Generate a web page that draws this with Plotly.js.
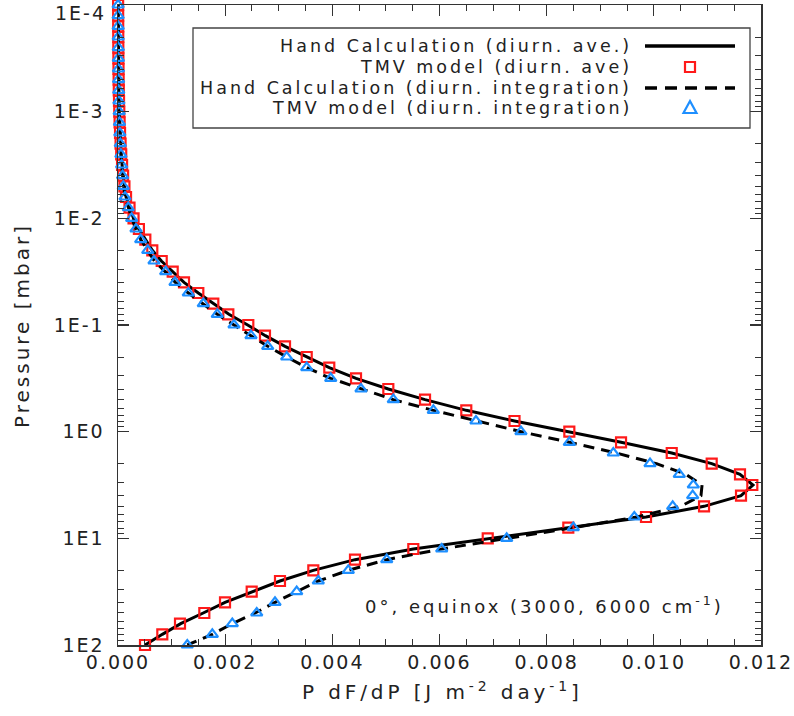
<!DOCTYPE html>
<html>
<head>
<meta charset="utf-8">
<script src="https://cdn.plot.ly/plotly-3.0.1.min.js"></script>
<style>
  html, body { margin: 0; padding: 0; background: #ffffff; }
  #chart { width: 794px; height: 716px; }
  /* open, widely tracked lettering for the tick labels */
  #chart .xtick text, #chart .ytick text { letter-spacing: 2px; }
</style>
</head>
<body>
<div id="chart"></div>
<script>
// Pressure levels (log10 of mbar), ten per decade from 1E-4 to 1E2
const logPressure = [
  -4.0, -3.9, -3.8, -3.7, -3.6, -3.5, -3.4, -3.3, -3.2, -3.1,
  -3.0, -2.9, -2.8, -2.7, -2.6, -2.5, -2.4, -2.3, -2.2, -2.1,
  -2.0, -1.9, -1.8, -1.7, -1.6, -1.5, -1.4, -1.3, -1.2, -1.1,
  -1.0, -0.9, -0.8, -0.7, -0.6, -0.5, -0.4, -0.3, -0.2, -0.1,
   0.0,  0.1,  0.2,  0.3,  0.4,  0.5,  0.6,  0.7,  0.8,  0.9,
   1.0,  1.1,  1.2,  1.3,  1.4,  1.5,  1.6,  1.7,  1.8,  1.9,
   2.0
];

// P dF/dP [J m^-2 day^-1], hand calculation with diurnally averaged insolation
const handDiurnAve = [
  0.0000024, 0.0000030, 0.0000038, 0.0000048, 0.0000060, 0.0000076, 0.0000095, 0.0000120, 0.0000150, 0.0000190,
  0.0000240, 0.0000300, 0.0000380, 0.0000480, 0.0000600, 0.0000760, 0.0000950, 0.000120, 0.000150, 0.000215,
  0.000290, 0.000390, 0.000510, 0.000640, 0.000810, 0.001015, 0.001232, 0.001499, 0.001779, 0.002070,
  0.002420, 0.002750, 0.003117, 0.003522, 0.003943, 0.004442, 0.005045, 0.005730, 0.006500, 0.007400,
  0.008423, 0.009388, 0.010334, 0.011080, 0.011608, 0.011850, 0.011627, 0.010937, 0.009854, 0.008404,
  0.006900, 0.005511, 0.004423, 0.003645, 0.003023, 0.002495, 0.001997, 0.001590, 0.001170, 0.000827,
  0.000504
];

// TMV model, diurnally averaged insolation
const tmvDiurnAve = [
  0.0000024, 0.0000030, 0.0000038, 0.0000048, 0.0000060, 0.0000076, 0.0000095, 0.0000120, 0.0000150, 0.0000190,
  0.0000240, 0.0000300, 0.0000380, 0.0000480, 0.0000600, 0.0000760, 0.0000950, 0.000120, 0.000150, 0.000215,
  0.000290, 0.000390, 0.000510, 0.000640, 0.000816, 0.001021, 0.001232, 0.001499, 0.001779, 0.002059,
  0.002432, 0.002743, 0.003117, 0.003522, 0.003943, 0.004442, 0.005045, 0.005730, 0.006500, 0.007400,
  0.008423, 0.009388, 0.010334, 0.011080, 0.011608, 0.011838, 0.011627, 0.010937, 0.009854, 0.008404,
  0.006900, 0.005511, 0.004423, 0.003645, 0.003023, 0.002495, 0.001997, 0.001611, 0.001157, 0.000827,
  0.000504
];

// Hand calculation with diurnal integration
const handDiurnInt = [
  0.0000022, 0.0000027, 0.0000034, 0.0000043, 0.0000054, 0.0000068, 0.0000085, 0.0000107, 0.0000135, 0.0000170,
  0.0000215, 0.0000270, 0.0000340, 0.0000430, 0.0000540, 0.0000680, 0.0000850, 0.000105, 0.000135, 0.000190,
  0.000255, 0.000336, 0.000428, 0.000550, 0.000680, 0.000880, 0.001070, 0.001312, 0.001592, 0.001853,
  0.002165, 0.002482, 0.002794, 0.003148, 0.003522, 0.003970, 0.004535, 0.005138, 0.005885, 0.006680,
  0.007520, 0.008423, 0.009300, 0.010050, 0.010600, 0.010900, 0.010880, 0.010500, 0.009680, 0.008497,
  0.007254, 0.006041, 0.005015, 0.004298, 0.003738, 0.003335, 0.002930, 0.002560, 0.002133, 0.001760,
  0.001293
];

// TMV model with diurnal integration
const tmvDiurnInt = [
  0.0000022, 0.0000027, 0.0000034, 0.0000043, 0.0000054, 0.0000068, 0.0000085, 0.0000107, 0.0000135, 0.0000170,
  0.0000215, 0.0000270, 0.0000340, 0.0000430, 0.0000540, 0.0000680, 0.0000850, 0.000099, 0.000131, 0.000192,
  0.000255, 0.000336, 0.000424, 0.000555, 0.000672, 0.000890, 0.001064, 0.001312, 0.001592, 0.001853,
  0.002165, 0.002482, 0.002794, 0.003148, 0.003522, 0.003970, 0.004535, 0.005138, 0.005885, 0.006680,
  0.007520, 0.008423, 0.009244, 0.009929, 0.010475, 0.010737, 0.010725, 0.010352, 0.009636, 0.008497,
  0.007254, 0.006041, 0.005015, 0.004298, 0.003738, 0.003335, 0.002930, 0.002589, 0.002133, 0.001760,
  0.001293
];

// Decade ticks; the top label (1E-4) is set just inside the frame
const pressureTickVals = [1e-3, 1e-2, 1e-1, 1, 10, 100];
const pressureTickText = ['1E-3', '1E-2', '1E-1', '1E0', '1E1', '1E2'];
const topPressureLabel = '1E-4';

const legendLabels = [
  'Hand Calculation (diurn. ave.)',
  'TMV model (diurn. ave)',
  'Hand Calculation (diurn. integration)',
  'TMV model (diurn. integration)'
];
const caseLabel = '0\u00b0, equinox (3000, 6000 cm<sup>-1</sup>)';
const xTitle = 'P dF/dP [J m<sup>-2</sup> day<sup>-1</sup>]';
const yTitle = 'Pressure [mbar]';

// ---- page geometry -------------------------------------------------------
const W = 794, H = 716;
const M = { l: 118, r: 33, t: 5, b: 71 };
const plotW = W - M.l - M.r, plotH = H - M.t - M.b;
// pixel position on the page -> paper coordinates
const px = v => (v - M.l) / plotW;
const py = v => (H - M.b - v) / plotH;
// widely tracked text run
const tracked = (t, sp) => `<span style="letter-spacing:${sp}px">${t}</span>`;

const FONT = 'DejaVu Sans, Liberation Sans, sans-serif';
const TXT = '#222222';
const RED = '#ff1a1a';
const BLUE = '#1e8fff';

const pressure = logPressure.map(v => Math.pow(10, v));

const traces = [
  {
    x: handDiurnAve, y: pressure, type: 'scatter', mode: 'lines',
    line: { color: '#000000', width: 3 }, name: legendLabels[0], cliponaxis: true
  },
  {
    x: tmvDiurnAve, y: pressure, type: 'scatter', mode: 'markers',
    marker: { symbol: 'square-open', size: 10, color: RED, line: { width: 2.2, color: RED } },
    name: legendLabels[1], cliponaxis: false
  },
  {
    x: handDiurnInt, y: pressure, type: 'scatter', mode: 'lines',
    line: { color: '#000000', width: 3, dash: '11px,7px' }, name: legendLabels[2], cliponaxis: true
  },
  {
    x: tmvDiurnInt, y: pressure, type: 'scatter', mode: 'markers',
    marker: { symbol: 'triangle-up-open', size: 10, color: BLUE, line: { width: 2.2, color: BLUE } },
    name: legendLabels[3], cliponaxis: false
  }
];

// ---- legend, drawn by hand: right-aligned labels, glyphs on the right -----
const rowY = [46, 67, 88, 108];
const textRight = 634, glyphX = 690, glyphL = 645, glyphR = 735;

const shapes = [
  { type: 'rect', xref: 'paper', yref: 'paper',
    x0: px(193), x1: px(750), y0: py(128), y1: py(28),
    line: { color: '#444444', width: 1.3 }, fillcolor: '#ffffff', layer: 'above' },
  { type: 'line', xref: 'paper', yref: 'paper',
    x0: px(glyphL), x1: px(glyphR), y0: py(rowY[0]), y1: py(rowY[0]),
    line: { color: '#000000', width: 3.5 }, layer: 'above' },
  { type: 'rect', xref: 'paper', yref: 'paper',
    x0: px(glyphX - 5), x1: px(glyphX + 5), y0: py(rowY[1] + 5), y1: py(rowY[1] - 5),
    line: { color: RED, width: 2.2 }, layer: 'above' },
  { type: 'line', xref: 'paper', yref: 'paper',
    x0: px(glyphL), x1: px(glyphR), y0: py(rowY[2]), y1: py(rowY[2]),
    line: { color: '#000000', width: 3.5, dash: '12px,8px' }, layer: 'above' },
  { type: 'path', xref: 'paper', yref: 'paper',
    path: `M ${px(glyphX)},${py(rowY[3] - 7)} L ${px(glyphX + 6.5)},${py(rowY[3] + 5)} L ${px(glyphX - 6.5)},${py(rowY[3] + 5)} Z`,
    line: { color: BLUE, width: 2.2 }, layer: 'above' }
];

const annotations = legendLabels.map((t, i) => ({
  text: tracked(t, 3.0), xref: 'paper', yref: 'paper', x: px(textRight), y: py(rowY[i]),
  xanchor: 'right', yanchor: 'middle', showarrow: false,
  font: { family: FONT, size: 17.5, color: TXT }
}));

annotations.push(
  { text: tracked(caseLabel, 3.0), xref: 'paper', yref: 'paper', x: px(726), y: py(605),
    xanchor: 'right', yanchor: 'middle', showarrow: false,
    font: { family: FONT, size: 18, color: TXT } },
  { text: tracked(xTitle, 3.9), xref: 'paper', yref: 'paper', x: px(442), y: py(691),
    xanchor: 'center', yanchor: 'middle', showarrow: false,
    font: { family: FONT, size: 20, color: TXT } },
  { text: tracked(yTitle, 3), xref: 'paper', yref: 'paper', x: px(22), y: py(325),
    xanchor: 'center', yanchor: 'middle', showarrow: false, textangle: -90,
    font: { family: FONT, size: 20, color: TXT } },
  { text: tracked(topPressureLabel, 2), xref: 'paper', yref: 'paper', x: px(108), y: py(13),
    xanchor: 'right', yanchor: 'middle', showarrow: false,
    font: { family: FONT, size: 19, color: TXT } }
);

const layout = {
  width: W, height: H,
  margin: M,
  paper_bgcolor: '#ffffff', plot_bgcolor: '#ffffff',
  showlegend: false,
  font: { family: FONT, color: TXT },
  xaxis: {
    range: [0, 0.012], tickmode: 'linear', tick0: 0, dtick: 0.002, tickformat: '.3f',
    ticks: 'inside', ticklen: 11, tickwidth: 1.2, tickcolor: '#333333',
    showline: true, linecolor: '#333333', linewidth: 1.5, mirror: 'ticks',
    showgrid: false, zeroline: false,
    minor: { tick0: 0, dtick: 0.0005, ticks: 'inside', ticklen: 6, tickwidth: 1, tickcolor: '#333333', showgrid: false },
    tickfont: { family: FONT, size: 19, color: TXT }
  },
  yaxis: {
    type: 'log', range: [2, -4],
    tickmode: 'array', tickvals: pressureTickVals, ticktext: pressureTickText,
    ticks: 'inside', ticklen: 11, tickwidth: 1.2, tickcolor: '#333333',
    showline: true, linecolor: '#333333', linewidth: 1.5, mirror: 'ticks',
    showgrid: false, zeroline: false,
    minor: { dtick: 'D1', ticks: 'inside', ticklen: 6, tickwidth: 1, tickcolor: '#333333', showgrid: false },
    ticklabelstandoff: 8,
    tickfont: { family: FONT, size: 19, color: TXT }
  },
  shapes: shapes,
  annotations: annotations
};

Plotly.newPlot('chart', traces, layout, { displayModeBar: false, staticPlot: true });
</script>
</body>
</html>
